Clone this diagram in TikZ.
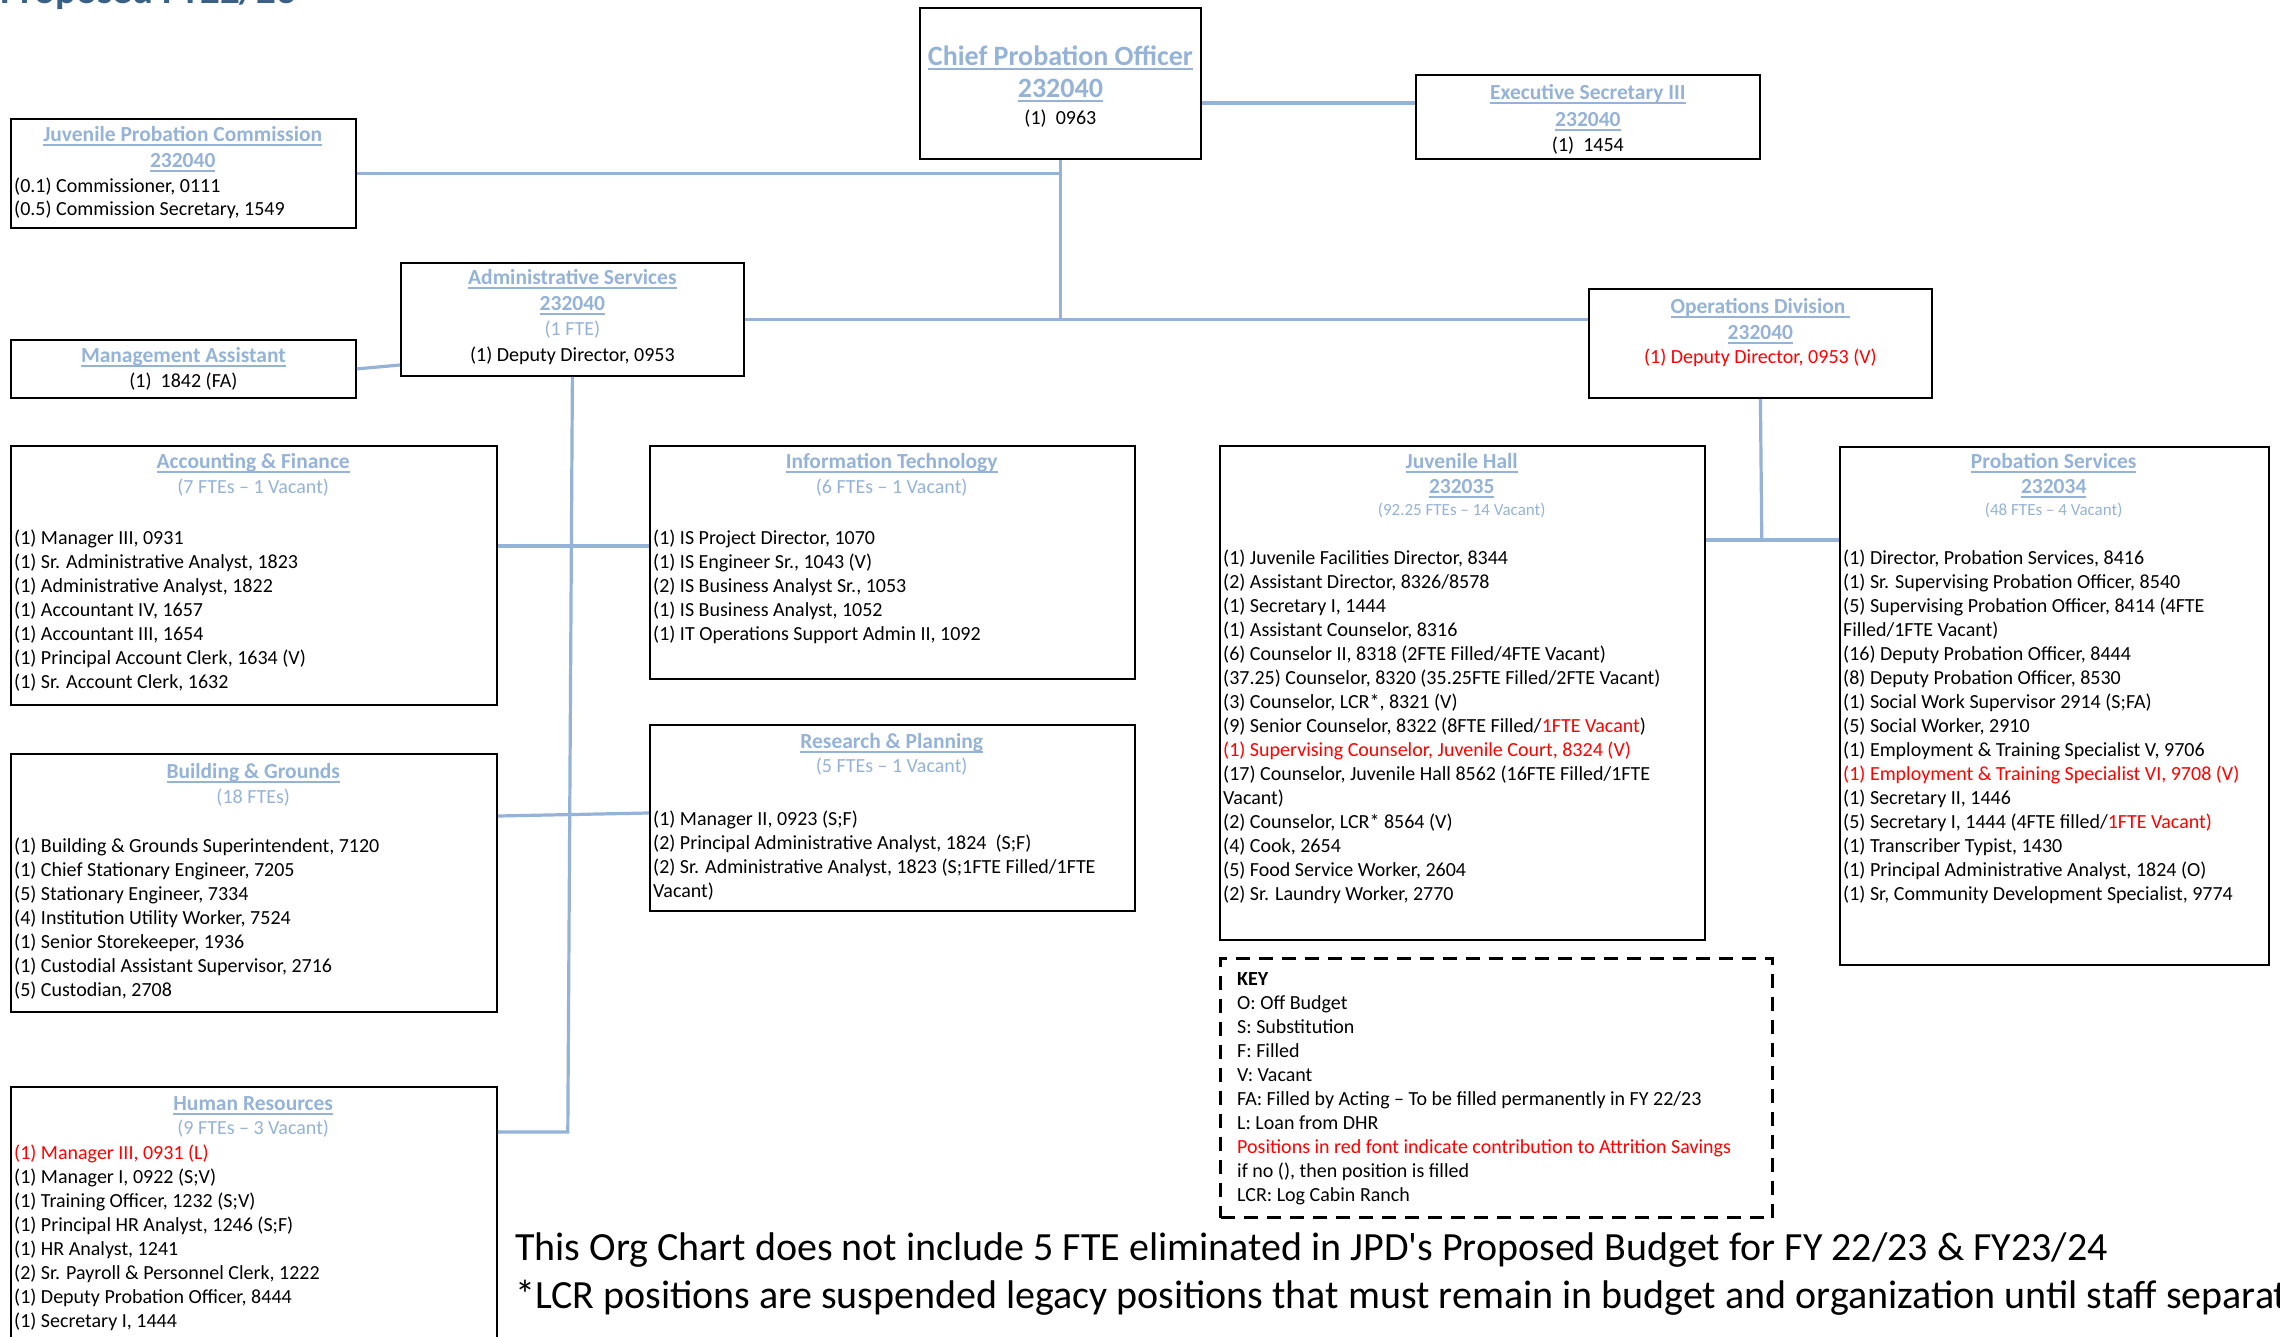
\documentclass[tikz,border=0pt]{standalone}
\usepackage{fontspec}
\setmainfont{Carlito}
\usetikzlibrary{calc}
\definecolor{linkblue}{RGB}{149,179,215}
\definecolor{headerblue}{RGB}{58,96,134}
\definecolor{vacantred}{RGB}{255,0,0}

\newcommand{\itemsize}{\fontsize{20}{24}\selectfont}
\newcommand{\linkline}[1]{\leavevmode\setbox0=\hbox{#1}\rlap{\rule[-4.5pt]{\wd0}{1.5pt}}\box0}
\newcommand{\toptitle}[1]{{\fontsize{21.5}{24}\selectfont\bfseries\color{linkblue}\linkline{#1}}}
\newcommand{\unithead}[2]{\makebox[#1]{\fontsize{21.5}{24}\selectfont\bfseries\color{linkblue}\linkline{#2}}}
\newcommand{\unitfte}[2]{\makebox[#1]{\color{linkblue}#2}}
\newcommand{\smallfte}[2]{\makebox[#1]{\fontsize{17}{20}\selectfont\color{linkblue}#2}}
\newcommand{\vac}[1]{\textcolor{vacantred}{#1}}

\begin{document}
\begin{tikzpicture}[
    x=1pt, y=-1pt,
    unit/.style={draw=black, line width=1.8pt, inner sep=0pt, anchor=north west},
    keybox/.style={draw=black, line width=3pt, dash pattern=on 14pt off 9pt,
        inner sep=0pt, anchor=north west},
    body/.style={inner sep=0pt, anchor=north west, align=left, font=\itemsize},
    cbody/.style={inner sep=0pt, anchor=north, align=center, font=\itemsize},
    link/.style={draw=linkblue, line width=3.2pt}
]

    \useasboundingbox (0,0) rectangle (2280,1337);
    \clip (0,0) rectangle (2280,1337);
    \fill[white] (0,0) rectangle (2280,1337);

    \node[anchor=base west, inner sep=0pt, text=headerblue,
        font=\fontsize{39}{44}\selectfont\bfseries] (pageTitle) at (0,4) {Proposed FY22/23};

    % frames
    \node[unit, minimum width=281, minimum height=151] (chief)    at (919,7)   {};
    \node[unit, minimum width=344, minimum height=84]  (exec)     at (1415,74) {};
    \node[unit, minimum width=345, minimum height=109] (jpc)      at (10,118)  {};
    \node[unit, minimum width=345, minimum height=58]  (mgmt)     at (10,339)  {};
    \node[unit, minimum width=343, minimum height=113] (admin)    at (400,262) {};
    \node[unit, minimum width=343, minimum height=109] (ops)      at (1588,288) {};
    \node[unit, minimum width=486, minimum height=259] (acct)     at (10,445)  {};
    \node[unit, minimum width=485, minimum height=233] (it)       at (649,445) {};
    \node[unit, minimum width=485, minimum height=186] (research) at (649,724) {};
    \node[unit, minimum width=486, minimum height=258] (bldg)     at (10,753)  {};
    \node[unit, minimum width=486, minimum height=290] (hr)       at (10,1086) {};
    \node[unit, minimum width=485, minimum height=494] (juvhall)  at (1219,445) {};
    \node[unit, minimum width=429, minimum height=518] (prob)     at (1839,446) {};
    \node[keybox, minimum width=552, minimum height=259] (key)    at (1219,957) {};

    % connectors
    \coordinate (chiefTrunk) at (chief.south |- admin.east);
    \draw[link] (chief.south) -- (chiefTrunk);
    \draw[link] (jpc.east) -- (jpc.east -| chief.south);
    \draw[link] ($(chief.north east)+(0,96)$) -- ($(exec.north west)+(0,29)$);
    \draw[link] (admin.east) -- (admin.east -| ops.west);
    \draw[link] (mgmt.east) -- ($(admin.north west)+(0,103)$);
    \coordinate (hrJoin) at ($(hr.north east)+(70,46)$);
    \draw[link] (admin.south) -- (hrJoin) -- (hrJoin -| hr.east);
    \draw[link] ($(acct.north east)+(0,101)$) -- ($(it.north west)+(0,101)$);
    \draw[link] ($(bldg.north east)+(0,63)$) -- ($(research.north west)+(0,89)$);
    \coordinate (opsJoin) at ($(juvhall.north east)+(56,95)$);
    \draw[link] (ops.south) -- (opsJoin);
    \draw[link] ($(juvhall.north east)+(0,95)$) -- ($(prob.north west)+(0,94)$);

    % texts
    \node[cbody] (chiefText) at (chief.north) {\rule{0pt}{58pt}{\fontsize{28}{30}\selectfont\bfseries\color{linkblue}\linkline{Chief Probation Officer}}\\[8pt]
        {\fontsize{28}{30}\selectfont\bfseries\color{linkblue}\linkline{232040}}\\[3pt]
        (1)\ \ 0963};
    \node[cbody] (execText) at (exec.north) {\rule{0pt}{25pt}\toptitle{Executive Secretary III}\\[3pt]
        \toptitle{232040}\\[1pt]
        (1)\ \ 1454};
    \node[body] (jpcText) at ([xshift=4pt]jpc.north west) {\rule{0pt}{23pt}\unithead{337pt}{Juvenile Probation Commission}\\[2pt]
        \unithead{337pt}{232040}\\[1pt]
        (0.1) Commissioner, 0111\\[-1pt]
        (0.5) Commission Secretary, 1549};
    \node[cbody] (mgmtText) at (mgmt.north) {\rule{0pt}{23pt}\toptitle{Management Assistant}\\[1pt]
        (1)\ \ 1842 (FA)};
    \node[cbody] (adminText) at (admin.north) {\rule{0pt}{22pt}\toptitle{Administrative Services}\\[2pt]
        \toptitle{232040}\\[1pt]
        \textcolor{linkblue}{(1 FTE)}\\[2pt]
        (1) Deputy Director, 0953};
    \node[cbody] (opsText) at (ops.north) {\rule{0pt}{25pt}\toptitle{Operations Division\ }\\[2pt]
        \toptitle{232040}\\
        \vac{(1) Deputy Director, 0953 (V)}};

    \node[body] (acctText) at ([xshift=4pt]acct.north west) {\rule{0pt}{23pt}\unithead{478pt}{Accounting \& Finance}\\[1pt]
        \unitfte{478pt}{(7 FTEs – 1 Vacant)}\\[27pt]
        (1) Manager III, 0931\\
        (1) Sr. Administrative Analyst, 1823\\
        (1) Administrative Analyst, 1822\\
        (1) Accountant IV, 1657\\
        (1) Accountant III, 1654\\
        (1) Principal Account Clerk, 1634 (V)\\
        (1) Sr. Account Clerk, 1632};
    \node[body] (itText) at ([xshift=4pt]it.north west) {\rule{0pt}{23pt}\unithead{477pt}{Information Technology}\\[1pt]
        \unitfte{477pt}{(6 FTEs – 1 Vacant)}\\[27pt]
        (1) IS Project Director, 1070\\
        (1) IS Engineer Sr., 1043 (V)\\
        (2) IS Business Analyst Sr., 1053\\
        (1) IS Business Analyst, 1052\\
        (1) IT Operations Support Admin II, 1092};
    \node[body] (researchText) at ([xshift=4pt]research.north west) {\rule{0pt}{24pt}\unithead{477pt}{Research \& Planning}\\
        \unitfte{477pt}{(5 FTEs – 1 Vacant)}\\[29pt]
        (1) Manager II, 0923 (S;F)\\
        (2) Principal Administrative Analyst, 1824\ \ (S;F)\\
        (2) Sr. Administrative Analyst, 1823 (S;1FTE Filled/1FTE\\
        Vacant)};
    \node[body] (bldgText) at ([xshift=4pt]bldg.north west) {\rule{0pt}{25pt}\unithead{478pt}{Building \& Grounds}\\[1pt]
        \unitfte{478pt}{(18 FTEs)}\\[25pt]
        (1) Building \& Grounds Superintendent, 7120\\
        (1) Chief Stationary Engineer, 7205\\
        (5) Stationary Engineer, 7334\\
        (4) Institution Utility Worker, 7524\\
        (1) Senior Storekeeper, 1936\\
        (1) Custodial Assistant Supervisor, 2716\\
        (5) Custodian, 2708};
    \node[body] (hrText) at ([xshift=4pt]hr.north west) {\rule{0pt}{24pt}\unithead{478pt}{Human Resources}\\
        \unitfte{478pt}{(9 FTEs – 3 Vacant)}\\[1pt]
        \vac{(1) Manager III, 0931 (L)}\\
        (1) Manager I, 0922 (S;V)\\
        (1) Training Officer, 1232 (S;V)\\
        (1) Principal HR Analyst, 1246 (S;F)\\
        (1) HR Analyst, 1241\\
        (2) Sr. Payroll \& Personnel Clerk, 1222\\
        (1) Deputy Probation Officer, 8444\\
        (1) Secretary I, 1444};
    \node[body] (juvhallText) at ([xshift=4pt]juvhall.north west) {\rule{0pt}{23pt}\unithead{477pt}{Juvenile Hall}\\[1pt]
        \unithead{477pt}{232035}\\[-2pt]
        \smallfte{477pt}{(92.25 FTEs – 14 Vacant)}\\[25pt]
        (1) Juvenile Facilities Director, 8344\\
        (2) Assistant Director, 8326/8578\\
        (1) Secretary I, 1444\\
        (1) Assistant Counselor, 8316\\
        (6) Counselor II, 8318 (2FTE Filled/4FTE Vacant)\\
        (37.25) Counselor, 8320 (35.25FTE Filled/2FTE Vacant)\\
        (3) Counselor, LCR*, 8321 (V)\\
        (9) Senior Counselor, 8322 (8FTE Filled/\vac{1FTE Vacant})\\
        \vac{(1) Supervising Counselor, Juvenile Court, 8324 (V)}\\
        (17) Counselor, Juvenile Hall 8562 (16FTE Filled/1FTE\\
        Vacant)\\
        (2) Counselor, LCR* 8564 (V)\\
        (4) Cook, 2654\\
        (5) Food Service Worker, 2604\\
        (2) Sr. Laundry Worker, 2770};
    \node[body] (probText) at ([xshift=4pt]prob.north west) {\rule{0pt}{22pt}\unithead{421pt}{Probation Services}\\[1pt]
        \unithead{421pt}{232034}\\[-2pt]
        \smallfte{421pt}{(48 FTEs – 4 Vacant)}\\[25pt]
        (1) Director, Probation Services, 8416\\
        (1) Sr. Supervising Probation Officer, 8540\\
        (5) Supervising Probation Officer, 8414 (4FTE\\
        Filled/1FTE Vacant)\\
        (16) Deputy Probation Officer, 8444\\
        (8) Deputy Probation Officer, 8530\\
        (1) Social Work Supervisor 2914 (S;FA)\\
        (5) Social Worker, 2910\\
        (1) Employment \& Training Specialist V, 9706\\
        \vac{(1) Employment \& Training Specialist VI, 9708 (V)}\\
        (1) Secretary II, 1446\\
        (5) Secretary I, 1444 (4FTE filled/\vac{1FTE Vacant)}\\
        (1) Transcriber Typist, 1430\\
        (1) Principal Administrative Analyst, 1824 (O)\\
        (1) Sr, Community Development Specialist, 9774};
    \node[body] (keyText) at ([xshift=18pt]key.north west) {\rule{0pt}{28pt}\textbf{KEY}\\
        O: Off Budget\\
        S: Substitution\\
        F: Filled\\
        V: Vacant\\
        FA: Filled by Acting – To be filled permanently in FY 22/23\\
        L: Loan from DHR\\
        \vac{Positions in red font indicate contribution to Attrition Savings}\\
        if no (), then position is filled\\
        LCR: Log Cabin Ranch};

    % footnotes
    \node[anchor=base west, inner sep=0pt, font=\fontsize{40}{48}\selectfont] (budgetNote) at (515,1260)
        {This Org Chart does not include 5 FTE eliminated in JPD\textquotesingle s Proposed Budget for FY 22/23 \& FY23/24};
    \node[anchor=base west, inner sep=0pt, font=\fontsize{40}{48}\selectfont] (lcrNote) at (515,1308)
        {*LCR positions are suspended legacy positions that must remain in budget and organization until staff separate};
\end{tikzpicture}
\end{document}
